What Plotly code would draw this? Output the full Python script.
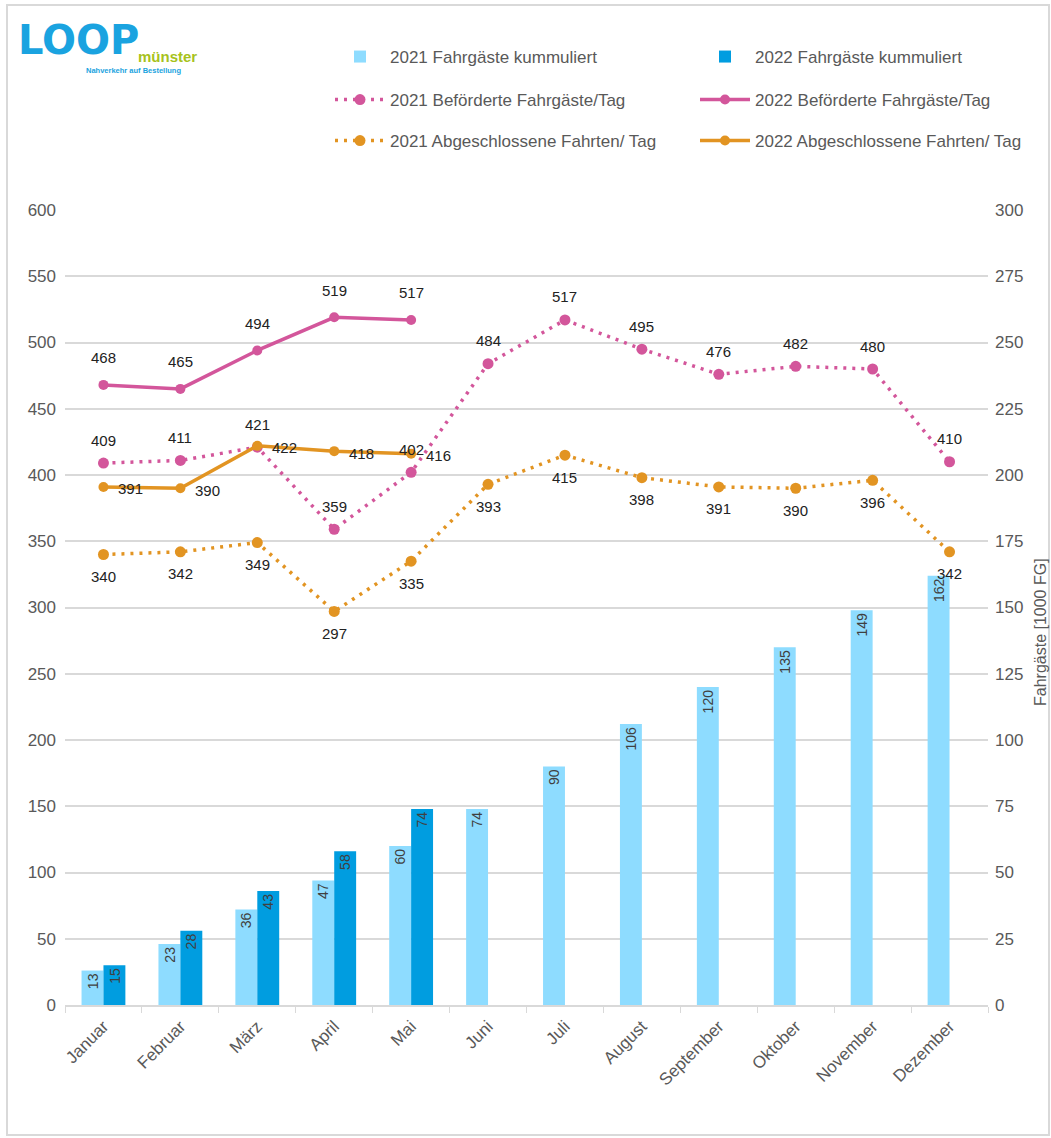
import plotly.graph_objects as go

months = ["Januar", "Februar", "März", "April", "Mai", "Juni", "Juli", "August",
          "September", "Oktober", "November", "Dezember"]
fg_2021_kum = [13, 23, 36, 47, 60, 74, 90, 106, 120, 135, 149, 162]
fg_2022_kum = [15, 28, 43, 58, 74, None, None, None, None, None, None, None]
bef_2021 = [409, 411, 421, 359, 402, 484, 517, 495, 476, 482, 480, 410]
bef_2022 = [468, 465, 494, 519, 517, None, None, None, None, None, None, None]
abg_2021 = [340, 342, 349, 297, 335, 393, 415, 398, 391, 390, 396, 342]
abg_2022 = [391, 390, 422, 418, 416, None, None, None, None, None, None, None]

FONT = "Liberation Sans, Arial, sans-serif"
C_LB = "#8EDCFF"
C_DB = "#009DE0"
C_PK = "#D3569B"
C_OR = "#E29422"
GREY = "#595959"

W, H = 1051, 1138
ML, MR, MT, MB = 65, 63, 210, 133

fig = go.Figure()

fig.add_trace(go.Bar(x=months, y=fg_2021_kum, name="2021 Fahrgäste kummuliert",
                     marker=dict(color=C_LB, line=dict(width=0)), yaxis="y",
                     text=fg_2021_kum, texttemplate="%{y}", textposition="inside",
                     textangle=-90, insidetextanchor="end",
                     textfont=dict(color="#404040", size=15, family=FONT),
                     legend="legend"))
fig.add_trace(go.Bar(x=months, y=fg_2022_kum, name="2022 Fahrgäste kummuliert",
                     marker=dict(color=C_DB, line=dict(width=0)), yaxis="y",
                     text=fg_2022_kum, texttemplate="%{y}", textposition="inside",
                     textangle=-90, insidetextanchor="end",
                     textfont=dict(color="#404040", size=15, family=FONT),
                     legend="legend"))

fig.add_trace(go.Scatter(x=months, y=bef_2021, name="2021 Beförderte Fahrgäste/Tag",
                         mode="lines+markers", yaxis="y2",
                         line=dict(color=C_PK, width=3.5, dash="3px,6px"),
                         marker=dict(color=C_PK, size=11), legend="legend2"))
fig.add_trace(go.Scatter(x=months, y=bef_2022, name="2022 Beförderte Fahrgäste/Tag",
                         mode="lines+markers", yaxis="y2",
                         line=dict(color=C_PK, width=3.5),
                         marker=dict(color=C_PK, size=10), legend="legend2"))
fig.add_trace(go.Scatter(x=months, y=abg_2021, name="2021 Abgeschlossene Fahrten/ Tag",
                         mode="lines+markers", yaxis="y2",
                         line=dict(color=C_OR, width=3.5, dash="3px,6px"),
                         marker=dict(color=C_OR, size=11), legend="legend3"))
fig.add_trace(go.Scatter(x=months, y=abg_2022, name="2022 Abgeschlossene Fahrten/ Tag",
                         mode="lines+markers", yaxis="y2",
                         line=dict(color=C_OR, width=3.5),
                         marker=dict(color=C_OR, size=10), legend="legend3"))

annotations = []
lab_font = dict(family=FONT, size=15, color="#222222")
for m, v in zip(months, bef_2021):
    annotations.append(dict(x=m, y=v, xref="x", yref="y2", text=str(v), showarrow=False,
                            yshift=23, font=lab_font))
for m, v in zip(months, bef_2022):
    if v is not None:
        annotations.append(dict(x=m, y=v, xref="x", yref="y2", text=str(v), showarrow=False,
                                yshift=27, font=lab_font))
for m, v in zip(months, abg_2021):
    annotations.append(dict(x=m, y=v, xref="x", yref="y2", text=str(v), showarrow=False,
                            yshift=-22, font=lab_font))
for m, v in zip(months, abg_2022):
    if v is not None:
        annotations.append(dict(x=m, y=v, xref="x", yref="y2", text=str(v), showarrow=False,
                                xanchor="left", xshift=13, yshift=-2, font=lab_font))

pw = W - ML - MR
ph = H - MT - MB
def px_x(p):
    return (p - ML) / pw
def px_y(p):
    return (H - MB - p) / ph

# right axis title
annotations.append(dict(xref="paper", yref="paper", x=px_x(1040), y=px_y(632),
                        xanchor="center", yanchor="middle", showarrow=False, textangle=-90,
                        text="Fahrgäste [1000 FG]", font=dict(family=FONT, size=16, color=GREY)))

# logo (as text)
annotations.append(dict(xref="paper", yref="paper", x=px_x(16), y=px_y(40), xanchor="left",
                        yanchor="middle", showarrow=False,
                        text="<b>LOOP</b>",
                        font=dict(family="DejaVu Sans, sans-serif", size=40, color="#1AA3E0")))
annotations.append(dict(xref="paper", yref="paper", x=px_x(136), y=px_y(56), xanchor="left",
                        yanchor="middle", showarrow=False, text="<b>münster</b>",
                        font=dict(family=FONT, size=15, color="#A7C21C")))
annotations.append(dict(xref="paper", yref="paper", x=px_x(84), y=px_y(70), xanchor="left",
                        yanchor="middle", showarrow=False, text="<b>Nahverkehr auf Bestellung</b>",
                        font=dict(family=FONT, size=7.5, color="#1AA3E0")))

shapes = [dict(type="rect", xref="paper", yref="paper",
               x0=px_x(7), x1=px_x(1049), y0=px_y(1135), y1=px_y(5),
               line=dict(color="#D9D9D9", width=2), fillcolor="rgba(0,0,0,0)", layer="below")]

leg_font = dict(family=FONT, size=17, color=GREY)
def leg(ypx):
    return dict(orientation="h", x=px_x(330), y=px_y(ypx), xanchor="left", yanchor="middle",
                font=leg_font, entrywidth=300, entrywidthmode="pixels", itemwidth=50,
                bgcolor="rgba(0,0,0,0)", traceorder="normal", itemclick=False)

fig.update_layout(
    width=W, height=H,
    margin=dict(l=ML, r=MR, t=MT, b=MB, autoexpand=False),
    paper_bgcolor="white", plot_bgcolor="white",
    font=dict(family=FONT, color=GREY),
    barmode="group", bargap=0.43, bargroupgap=0,
    showlegend=True,
    legend=leg(57), legend2=leg(100), legend3=leg(141),
    xaxis=dict(type="category", range=[-0.5, 11.5], tickangle=-45,
               tickfont=dict(size=17, color=GREY), ticklabelstandoff=3,
               showline=True, linecolor="#D9D9D9", linewidth=1.5, automargin=False,
               ticks="outside", tickson="boundaries", ticklen=6, tickcolor="#D9D9D9",
               showgrid=False),
    yaxis=dict(side="right", range=[0, 300], dtick=25, showgrid=True, gridcolor="#D9D9D9",
               gridwidth=1.5, zeroline=False, tickfont=dict(size=17, color=GREY),
               ticks="", automargin=False, ticklabelstandoff=6),
    yaxis2=dict(side="left", overlaying="y", range=[0, 600], dtick=50, showgrid=False,
                zeroline=False, tickfont=dict(size=17, color=GREY), ticks="",
                automargin=False, ticklabelstandoff=8),
    annotations=annotations,
    shapes=shapes,
    uniformtext=dict(minsize=14, mode="show"),
)

fig.write_html("out.html", config={"displayModeBar": False},
               post_script="document.body.style.margin='0';document.body.style.overflow='hidden';")
